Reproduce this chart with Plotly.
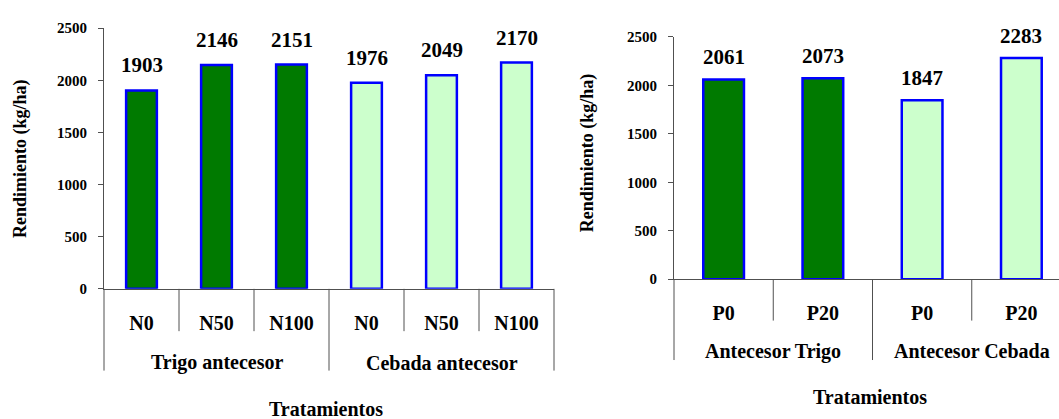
import plotly.graph_objects as go

# ---------------- data ----------------
left_groups = ["Trigo antecesor", "Cebada antecesor"]
left_subs = ["N0", "N50", "N100"]
left_values = [1903, 2146, 2151, 1976, 2049, 2170]

right_groups = ["Antecesor Trigo", "Antecesor Cebada"]
right_subs = ["P0", "P20"]
right_values = [2061, 2073, 1847, 2283]

y_ticks = [0, 500, 1000, 1500, 2000, 2500]
x_title = "Tratamientos"
y_title = "Rendimiento (kg/ha)"

# ---------------- styling ----------------
W, H = 1059, 419
FONT = "Liberation Serif, Times New Roman, serif"
DARK = "#007A00"
LIGHT = "#CCFFCC"
EDGE = "#0000FF"
AXC = "#505050"
group_colors = [DARK, LIGHT]


def py(px):
    """pixel row -> paper y"""
    return 1 - px / H


def px_x(px):
    return px / W


def bfont(size):
    return dict(family=FONT, size=size, color="black", weight="bold")


fig = go.Figure()

panels = [
    dict(groups=left_groups, subs=left_subs, values=left_values,
         xa="x", ya="y",
         xdom=[px_x(104), px_x(554)], ydom=[py(292), py(21)],
         y0=292, short_end=336, long_end=377,
         sub_y=325, grp_y=369, tit_x=326, tit_y=417,
         ytit_x=20, ytit_y=157, lab_shift=25, cut=None),
    dict(groups=right_groups, subs=right_subs, values=right_values,
         xa="x2", ya="y2",
         xdom=[px_x(674), 1.0], ydom=[py(282), py(30)],
         y0=282, short_end=325, long_end=366,
         sub_y=315, grp_y=357, tit_x=870, tit_y=404,
         ytit_x=587, ytit_y=151, lab_shift=22, cut=(674, 99.25)),
]

shapes = []
annotations = []

for k, p in enumerate(panels):
    ns = len(p["subs"])
    n = ns * len(p["groups"])
    xs = list(range(n))
    colors = [group_colors[i // ns] for i in range(n)]
    fig.add_trace(go.Bar(
        x=xs, y=p["values"], xaxis=p["xa"], yaxis=p["ya"],
        width=0.41,
        marker=dict(color=colors, line=dict(color=EDGE, width=2.5)),
        showlegend=False, hoverinfo="x+y",
    ))
    suffix = "" if k == 0 else "2"
    if p["cut"] is None:
        xr = [-0.5, n - 0.5]
    else:
        left_px, cw = p["cut"]
        xr = [-0.5, -0.5 + (W - left_px) / cw]
    fig.update_layout(**{
        "xaxis" + suffix: dict(
            domain=p["xdom"], range=xr, anchor=p["ya"],
            showline=True, linecolor=AXC, linewidth=1,
            ticks="", showgrid=False, zeroline=False,
            tickvals=xs, ticktext=[p["subs"][i % ns] for i in xs],
            tickfont=bfont(20),
            ticklabelstandoff=p["sub_y"] - p["y0"] - 17,
            fixedrange=True,
        ),
        "yaxis" + suffix: dict(
            domain=p["ydom"], range=[0, 2500], anchor=p["xa"],
            showline=True, linecolor=AXC, linewidth=1,
            ticks="outside", ticklen=5, tickcolor=AXC, tickwidth=1,
            tickvals=y_ticks, showgrid=False, zeroline=False,
            tickfont=bfont(15),
            ticklabelstandoff=8,
            fixedrange=True,
        ),
    })
    xdom_ref = p["xa"] + " domain"
    # separators under the category axis
    for b in range(1, n):
        xb = b - 0.5
        is_group = (b % ns == 0)
        shapes.append(dict(type="line", xref=p["xa"], yref="paper",
                           x0=xb, x1=xb, y0=py(p["y0"]),
                           y1=py(p["long_end"] if is_group else p["short_end"]),
                           line=dict(color=AXC, width=1)))
    # outer edges (left always, right only if visible)
    edges = [0] if p["cut"] is not None else [0, 1]
    for e in edges:
        shapes.append(dict(type="line", xref=xdom_ref, yref="paper",
                           x0=e, x1=e, y0=py(p["y0"]), y1=py(p["long_end"]),
                           line=dict(color=AXC, width=1)))
    # group labels
    for g, name in enumerate(p["groups"]):
        annotations.append(dict(
            text=name, xref=p["xa"], yref="paper",
            x=g * ns + (ns - 1) / 2, y=py(p["grp_y"]),
            xanchor="center", yanchor="middle", showarrow=False,
            font=bfont(20)))
    # value labels
    for i, v in enumerate(p["values"]):
        annotations.append(dict(
            text=str(v), xref=p["xa"], yref=p["ya"], x=i, y=v,
            xanchor="center", yanchor="middle", yshift=p["lab_shift"],
            showarrow=False, font=bfont(21)))
    # axis titles
    annotations.append(dict(
        text=x_title, xref="paper", yref="paper",
        x=px_x(p["tit_x"]), y=py(p["tit_y"]),
        xanchor="center", yanchor="middle", showarrow=False,
        font=bfont(20)))
    annotations.append(dict(
        text=y_title, xref="paper", yref="paper",
        x=px_x(p["ytit_x"]), y=py(p["ytit_y"]), textangle=-90,
        xanchor="center", yanchor="middle", showarrow=False,
        font=bfont(18)))

fig.update_layout(
    width=W, height=H,
    margin=dict(l=0, r=0, t=0, b=0),
    paper_bgcolor="white", plot_bgcolor="white",
    shapes=shapes, annotations=annotations,
)

fig.write_html("out.html")
